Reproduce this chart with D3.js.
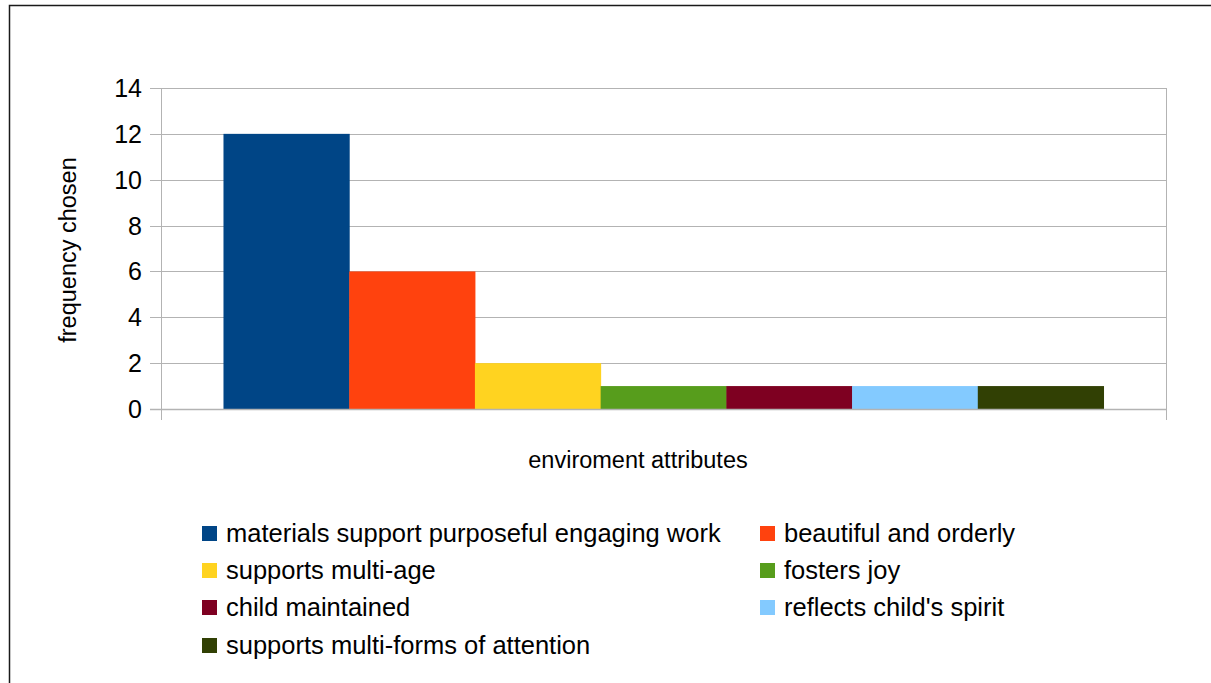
<!DOCTYPE html>
<html>
<head>
<meta charset="utf-8">
<script src="https://cdn.jsdelivr.net/npm/d3@7"></script>
<style>
  html, body { margin: 0; padding: 0; background: #fff; }
  svg { display: block; font-family: "Liberation Sans", Arial, sans-serif; }
</style>
</head>
<body>
<svg id="chart" width="1211" height="683"></svg>
<script>
const categories = ["enviroment attributes"];
const seriesNames = [
  "materials support purposeful engaging work",
  "beautiful and orderly",
  "supports multi-age",
  "fosters joy",
  "child maintained",
  "reflects child's spirit",
  "supports multi-forms of attention"
];
const seriesValues = [12, 6, 2, 1, 1, 1, 1];
const seriesColors = ["#004586", "#ff420e", "#ffd320", "#579d1c", "#7e0021", "#83caff", "#314004"];
const yTicks = [0, 2, 4, 6, 8, 10, 12, 14];

(function () {
const svg = d3.select("#chart");

// outer frame
svg.append("rect").attr("x", 9.5).attr("y", 5.5).attr("width", 1230).attr("height", 700)
  .attr("fill", "none").attr("stroke", "#1a1a1a").attr("stroke-width", 1.5);

const pLeft = 161, pRight = 1166, pTop = 88, pBottom = 409;

const y = d3.scaleLinear().domain([0, 14]).range([pBottom, pTop]);
const x0 = d3.scaleBand().domain(categories).range([pLeft, pRight]).paddingInner(0).paddingOuter(0.071);
const x1 = d3.scaleBand().domain(seriesNames).range([0, x0.bandwidth()]).padding(0);

// gridlines
svg.append("g").selectAll("line").data(yTicks).join("line")
  .attr("x1", pLeft - 11).attr("x2", pRight)
  .attr("y1", d => Math.round(y(d)) + 0.5).attr("y2", d => Math.round(y(d)) + 0.5)
  .attr("stroke", "#b3b3b3").attr("stroke-width", 1);

// left and right vertical frame lines
svg.append("line").attr("x1", pLeft + 0.5).attr("x2", pLeft + 0.5).attr("y1", pTop).attr("y2", pBottom + 11)
  .attr("stroke", "#b3b3b3");
svg.append("line").attr("x1", pRight + 0.5).attr("x2", pRight + 0.5).attr("y1", pTop).attr("y2", pBottom + 11)
  .attr("stroke", "#b3b3b3");

// bars
const g = svg.append("g").selectAll("g").data(categories).join("g")
  .attr("transform", d => `translate(${x0(d)},0)`);
g.selectAll("rect").data(seriesNames.map((n, i) => ({ n, v: seriesValues[i], c: seriesColors[i] })))
  .join("rect")
  .attr("x", d => x1(d.n))
  .attr("y", d => y(d.v))
  .attr("width", x1.bandwidth() + 0.5)
  .attr("height", d => y(0) - y(d.v))
  .attr("fill", d => d.c);

// bottom axis line
svg.append("line").attr("x1", pLeft - 11).attr("x2", pRight).attr("y1", pBottom + 0.5).attr("y2", pBottom + 0.5)
  .attr("stroke", "#b3b3b3").attr("stroke-width", 1.5);

// y tick labels
svg.append("g").selectAll("text").data(yTicks).join("text")
  .attr("x", 142).attr("y", d => y(d))
  .attr("dy", "0.36em")
  .attr("text-anchor", "end")
  .attr("font-size", 25).attr("fill", "#000")
  .text(d => d);

// axis titles
svg.append("text").attr("transform", "translate(76,250) rotate(-90)")
  .attr("text-anchor", "middle").attr("font-size", 23.5).text("frequency chosen");
svg.append("text").attr("x", 638).attr("y", 468)
  .attr("text-anchor", "middle").attr("font-size", 23.5).text(categories[0]);

// legend
const legendCols = [202, 760];
const legendRows = [533, 570, 607, 645];
const lg = svg.append("g").selectAll("g").data(seriesNames).join("g")
  .attr("transform", (d, i) => `translate(${legendCols[i % 2]},${legendRows[Math.floor(i / 2)]})`);
lg.append("rect").attr("x", 0).attr("y", -7).attr("width", 15).attr("height", 15)
  .attr("fill", (d, i) => seriesColors[i]);
lg.append("text").attr("x", 24).attr("y", 0).attr("dy", "0.36em")
  .attr("font-size", 25.5).attr("fill", "#000").text(d => d);
})();
</script>
</body>
</html>
